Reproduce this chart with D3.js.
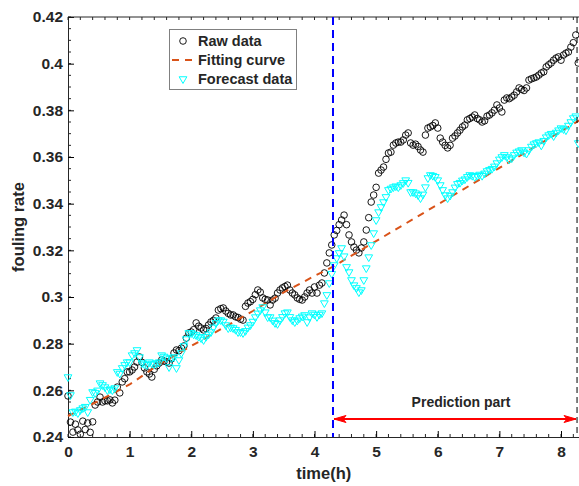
<!DOCTYPE html>
<html>
<head>
<meta charset="utf-8">
<script src="https://d3js.org/d3.v7.min.js"></script>
<style>
  body { margin: 0; background: #fff; }
  text { font-family: "Liberation Sans", Arial, sans-serif; font-weight: bold; fill: #262626; }
</style>
</head>
<body>
<script>
// sampling step of the measurements (h)
var dt = 0.04;

// raw fouling rate, one value per dt starting at t = 0
var rawRate = [
  0.2576, 0.2464, 0.2421, 0.2455, 0.2430, 0.2412, 0.2468, 0.2432, 0.2460, 0.2420, 0.2465, 0.2537, 0.2550,
  0.2571, 0.2550, 0.2555, 0.2555, 0.2559, 0.2546, 0.2558, 0.2614, 0.2589, 0.2636, 0.2650, 0.2679,
  0.2679, 0.2687, 0.2700, 0.2721, 0.2743, 0.2720, 0.2696, 0.2679, 0.2670, 0.2657, 0.2690, 0.2705, 0.2717,
  0.2730, 0.2725, 0.2722, 0.2717, 0.2735, 0.2760, 0.2773, 0.2770, 0.2781, 0.2790, 0.2824, 0.2846,
  0.2850, 0.2860, 0.2889, 0.2875, 0.2867, 0.2859, 0.2865, 0.2880, 0.2893, 0.2900, 0.2910, 0.2944, 0.2950,
  0.2953, 0.2940, 0.2930, 0.2923, 0.2923, 0.2915, 0.2912, 0.2905, 0.2901, 0.2960, 0.2974, 0.2980,
  0.2990, 0.3010, 0.3030, 0.3021, 0.2996, 0.2990, 0.2987, 0.2966, 0.2987, 0.2995, 0.3017, 0.3030, 0.3039,
  0.3045, 0.3051, 0.3030, 0.3017, 0.3009, 0.2996, 0.2990, 0.2987, 0.3000, 0.3017, 0.3030, 0.3017,
  0.3043, 0.3017, 0.3051, 0.3060, 0.3103, 0.3146, 0.3189, 0.3223, 0.3266, 0.3285, 0.3310, 0.3330, 0.3351,
  0.3310, 0.3266, 0.3236, 0.3214, 0.3201, 0.3189, 0.3210, 0.3236, 0.3287, 0.3340, 0.3407, 0.3437,
  0.3470, 0.3531, 0.3544, 0.3557, 0.3590, 0.3617, 0.3621, 0.3651, 0.3660, 0.3664, 0.3664, 0.3673, 0.3694,
  0.3703, 0.3660, 0.3651, 0.3655, 0.3645, 0.3630, 0.3621, 0.3694, 0.3724, 0.3729, 0.3735, 0.3746,
  0.3724, 0.3681, 0.3664, 0.3650, 0.3639, 0.3650, 0.3681, 0.3690, 0.3703, 0.3715, 0.3729, 0.3737, 0.3759,
  0.3765, 0.3771, 0.3780, 0.3765, 0.3759, 0.3750, 0.3755, 0.3775, 0.3780, 0.3789, 0.3801, 0.3823,
  0.3810, 0.3793, 0.3844, 0.3853, 0.3850, 0.3857, 0.3865, 0.3879, 0.3896, 0.3890, 0.3885, 0.3896, 0.3930,
  0.3935, 0.3939, 0.3943, 0.3951, 0.3960, 0.3965, 0.3986, 0.3995, 0.4003, 0.4015, 0.4024, 0.4029,
  0.4015, 0.4037, 0.4045, 0.4050, 0.4071, 0.4090, 0.4123, 0.4003
];

// model forecast, same sampling
var forecastRate = [
  0.2657, 0.2580, 0.2507, 0.2510, 0.2503, 0.2516, 0.2524, 0.2530, 0.2507, 0.2560, 0.2593, 0.2589, 0.2600,
  0.2631, 0.2623, 0.2614, 0.2601, 0.2605, 0.2601, 0.2610, 0.2679, 0.2672, 0.2696, 0.2709, 0.2721,
  0.2721, 0.2751, 0.2760, 0.2773, 0.2743, 0.2717, 0.2712, 0.2709, 0.2721, 0.2715, 0.2712, 0.2717, 0.2721,
  0.2751, 0.2745, 0.2738, 0.2700, 0.2738, 0.2743, 0.2696, 0.2730, 0.2760, 0.2790, 0.2820, 0.2846,
  0.2846, 0.2840, 0.2837, 0.2830, 0.2824, 0.2816, 0.2830, 0.2840, 0.2850, 0.2870, 0.2889, 0.2901, 0.2901,
  0.2895, 0.2880, 0.2867, 0.2870, 0.2867, 0.2860, 0.2850, 0.2850, 0.2846, 0.2855, 0.2870, 0.2880,
  0.2895, 0.2914, 0.2930, 0.2944, 0.2957, 0.2935, 0.2914, 0.2914, 0.2900, 0.2889, 0.2885, 0.2901, 0.2915,
  0.2931, 0.2935, 0.2915, 0.2901, 0.2893, 0.2900, 0.2910, 0.2917, 0.2923, 0.2893, 0.2914, 0.2931,
  0.2925, 0.2915, 0.2925, 0.2931, 0.2974, 0.3009, 0.3060, 0.3100, 0.3137, 0.3167, 0.3189, 0.3210, 0.3175,
  0.3129, 0.3107, 0.3073, 0.3051, 0.3039, 0.3021, 0.3030, 0.3073, 0.3124, 0.3171, 0.3223, 0.3274,
  0.3330, 0.3364, 0.3386, 0.3407, 0.3429, 0.3459, 0.3465, 0.3471, 0.3475, 0.3471, 0.3480, 0.3489, 0.3501,
  0.3490, 0.3450, 0.3450, 0.3445, 0.3437, 0.3424, 0.3440, 0.3471, 0.3510, 0.3523, 0.3520, 0.3515,
  0.3501, 0.3480, 0.3459, 0.3437, 0.3424, 0.3435, 0.3450, 0.3470, 0.3485, 0.3490, 0.3500, 0.3505, 0.3515,
  0.3523, 0.3520, 0.3515, 0.3520, 0.3525, 0.3520, 0.3530, 0.3540, 0.3545, 0.3550, 0.3560, 0.3574,
  0.3590, 0.3600, 0.3609, 0.3600, 0.3590, 0.3595, 0.3609, 0.3620, 0.3625, 0.3630, 0.3620, 0.3615, 0.3630,
  0.3645, 0.3655, 0.3660, 0.3664, 0.3650, 0.3670, 0.3685, 0.3694, 0.3700, 0.3690, 0.3705, 0.3715,
  0.3724, 0.3720, 0.3715, 0.3735, 0.3750, 0.3767, 0.3775, 0.3660
];

// fitting curve knots
var fitTime = [0, 0.5, 1, 1.5, 2, 2.5, 3, 3.5, 4, 4.3, 8.3];
var fitRate = [0.249, 0.2555, 0.2625, 0.2715, 0.279, 0.2865, 0.294, 0.302, 0.309, 0.313, 0.3757];

var xTicks = [0, 1, 2, 3, 4, 5, 6, 7, 8];
var yTicks = [0.24, 0.26, 0.28, 0.3, 0.32, 0.34, 0.36, 0.38, 0.4, 0.42];
var splitTime = 4.3;   // start of prediction part
var endTime = 8.26;

var W = 579, H = 486;
var pL = 68, pT = 17, pR = 579.5, pB = 437;

var svg = d3.select("body").append("svg").attr("width", W).attr("height", H);

var x = d3.scaleLinear().domain([0, 8.3]).range([pL, pR]);
var y = d3.scaleLinear().domain([0.24, 0.42]).range([pB, pT]);

var raw = rawRate.map(function(v, i) { return [i * dt, v]; });
var fc = forecastRate.map(function(v, i) { return [i * dt, v]; });
var fit = fitTime.map(function(t, i) { return [t, fitRate[i]]; });

var fmt = function(v) { return String(+v.toFixed(2)); };

// axes with inward ticks
var axisG = svg.append("g");
var minorX = d3.range(0, 8.31, 0.2);
var minorY = d3.range(0.24, 0.4201, 0.005);

axisG.selectAll(".mx").data(minorX).enter().append("line")
  .attr("x1", function(d) { return x(d); }).attr("x2", function(d) { return x(d); })
  .attr("y1", pB).attr("y2", pB - 3)
  .attr("stroke", "#262626");
axisG.selectAll(".mxt").data(minorX).enter().append("line")
  .attr("x1", function(d) { return x(d); }).attr("x2", function(d) { return x(d); })
  .attr("y1", pT).attr("y2", pT + 3)
  .attr("stroke", "#262626");
axisG.selectAll(".my").data(minorY).enter().append("line")
  .attr("x1", pL).attr("x2", pL + 3)
  .attr("y1", function(d) { return y(d); }).attr("y2", function(d) { return y(d); })
  .attr("stroke", "#262626");

svg.append("g").attr("transform", "translate(0," + pB + ")")
  .call(d3.axisBottom(x).tickValues(xTicks).tickSizeInner(-6).tickSizeOuter(0).tickPadding(9).tickFormat(d3.format("d")))
  .call(function(g) {
    g.select(".domain").attr("stroke", "#262626");
    g.selectAll("text").style("font-size", "15.5px").attr("fill", "#262626");
  });
svg.append("g").attr("transform", "translate(" + pL + ",0)")
  .call(d3.axisLeft(y).tickValues(yTicks).tickSizeInner(-6).tickSizeOuter(0).tickPadding(5).tickFormat(fmt))
  .call(function(g) {
    g.select(".domain").attr("stroke", "#262626");
    g.selectAll("text").style("font-size", "15.5px").attr("fill", "#262626");
  });
svg.append("line").attr("x1", pL).attr("x2", pR).attr("y1", pT).attr("y2", pT).attr("stroke", "#262626");
svg.append("line").attr("x1", pR).attr("x2", pR).attr("y1", pT).attr("y2", pB).attr("stroke", "#262626");

svg.append("text").attr("x", (pL + pR) / 2).attr("y", 479)
  .attr("text-anchor", "middle").style("font-size", "16.5px").text("time(h)");
svg.append("text").attr("transform", "translate(24," + ((pT + pB) / 2) + ") rotate(-90)")
  .attr("text-anchor", "middle").style("font-size", "16.5px").text("fouling rate");

// markers
svg.append("g").selectAll("circle").data(raw).enter().append("circle")
  .attr("cx", function(d) { return x(d[0]); })
  .attr("cy", function(d) { return y(d[1]); })
  .attr("r", 3.3)
  .attr("fill", "none").attr("stroke", "#000").attr("stroke-width", 0.9);

svg.append("path").datum(fit)
  .attr("d", d3.line().x(function(d) { return x(d[0]); }).y(function(d) { return y(d[1]); }))
  .attr("fill", "none").attr("stroke", "#D95319").attr("stroke-width", 2)
  .attr("stroke-dasharray", "7,6");

var tri = d3.symbol().type(d3.symbolTriangle).size(26);
svg.append("g").selectAll("path").data(fc).enter().append("path")
  .attr("d", tri)
  .attr("transform", function(d) { return "translate(" + x(d[0]) + "," + y(d[1]) + ") rotate(180)"; })
  .attr("fill", "none").attr("stroke", "#00FFFF").attr("stroke-width", 1);

// prediction boundaries
svg.append("line").attr("x1", x(splitTime)).attr("x2", x(splitTime)).attr("y1", pT).attr("y2", pB)
  .attr("stroke", "#0000FF").attr("stroke-width", 2).attr("stroke-dasharray", "8,5");
svg.append("line").attr("x1", x(endTime)).attr("x2", x(endTime)).attr("y1", pT).attr("y2", pB)
  .attr("stroke", "#000").attr("stroke-width", 1).attr("stroke-dasharray", "6,4");

// arrow
var defs = svg.append("defs");
defs.append("marker").attr("id", "ah").attr("viewBox", "-13 -6 15 12")
  .attr("markerWidth", 15).attr("markerHeight", 12).attr("refX", 0).attr("refY", 0)
  .attr("markerUnits", "userSpaceOnUse").attr("orient", "auto-start-reverse")
  .append("path").attr("d", "M-12,-3.5 L0,0 L-12,3.5 L-9,0 Z").attr("fill", "#FF0000").attr("stroke", "#FF0000");
svg.append("line").attr("x1", x(splitTime) + 1).attr("x2", x(endTime) - 1)
  .attr("y1", 419).attr("y2", 419)
  .attr("stroke", "#FF0000").attr("stroke-width", 2)
  .attr("marker-start", "url(#ah)").attr("marker-end", "url(#ah)");
svg.append("text").attr("x", 461).attr("y", 407).attr("text-anchor", "middle")
  .style("font-size", "14px").attr("fill", "#000").text("Prediction part");

// legend
var lg = svg.append("g");
lg.append("rect").attr("x", 169.5).attr("y", 29.5).attr("width", 127).attr("height", 60)
  .attr("fill", "#fff").attr("stroke", "#808080");
var rows = [41, 60, 79];
lg.append("circle").attr("cx", 183).attr("cy", rows[0]).attr("r", 3.3)
  .attr("fill", "none").attr("stroke", "#000").attr("stroke-width", 0.9);
lg.append("line").attr("x1", 172).attr("x2", 196).attr("y1", rows[1]).attr("y2", rows[1])
  .attr("stroke", "#D95319").attr("stroke-width", 2).attr("stroke-dasharray", "7,6");
lg.append("path").attr("d", tri).attr("transform", "translate(183," + rows[2] + ") rotate(180)")
  .attr("fill", "none").attr("stroke", "#00FFFF");
["Raw data", "Fitting curve", "Forecast data"].forEach(function(s, i) {
  lg.append("text").attr("x", 198).attr("y", rows[i] + 5).style("font-size", "14.5px").attr("fill", "#000").text(s);
});
</script>
</body>
</html>
